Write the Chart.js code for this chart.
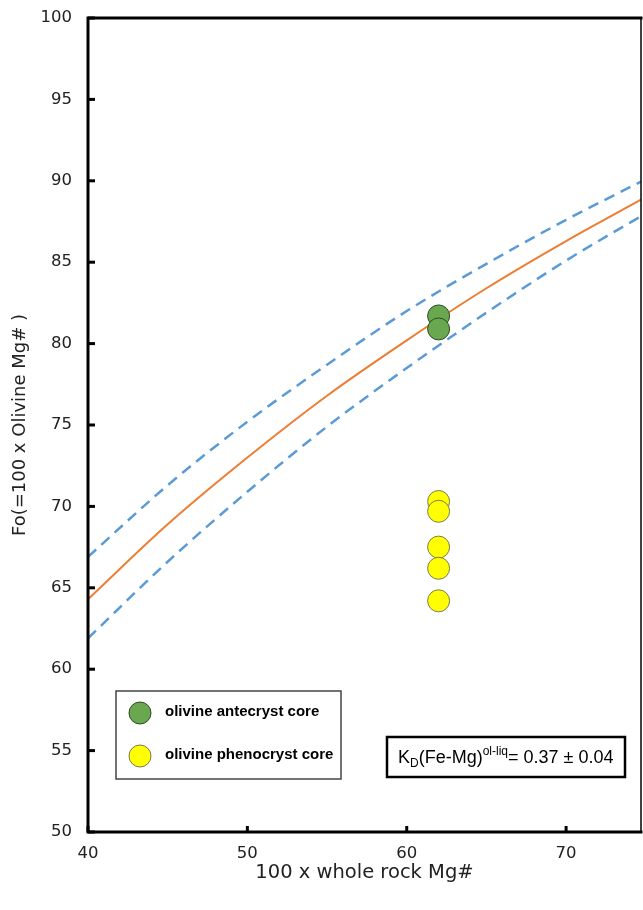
<!DOCTYPE html>
<html>
<head>
<meta charset="utf-8">
<script src="https://cdn.jsdelivr.net/npm/chart.js@4.4.1/dist/chart.umd.min.js"></script>
<style>
body { margin: 0; background: #fff; }
</style>
</head>
<body>
<canvas id="grafico" width="643" height="910"></canvas>
<script>
// curvas de equilibrio (Mg# da rocha total x Fo da olivina)
const mgRocha = [40, 45, 50, 55, 60, 65, 70, 75];
const foKd037 = [64.3, 68.9, 73.0, 76.8, 80.2, 83.4, 86.3, 89.0];
const foKd033 = [66.9, 71.3, 75.2, 78.7, 82.0, 84.9, 87.6, 90.1];
const foKd041 = [61.9, 66.6, 70.9, 74.9, 78.5, 81.9, 85.1, 88.0];

// nucleos de olivina
const mgAntecristal = [62, 62];
const foAntecristal = [81.7, 80.9];
const mgFenocristal = [62, 62, 62, 62, 62];
const foFenocristal = [70.3, 69.7, 67.5, 66.2, 64.2];

const ticksX = [40, 50, 60, 70];
const ticksY = [50, 55, 60, 65, 70, 75, 80, 85, 90, 95, 100];

function pares(xs, ys) {
    return xs.map((x, i) => ({ x: x, y: ys[i] }));
}

Chart.defaults.font.family = '"DejaVu Sans", Verdana, sans-serif';
Chart.defaults.color = '#222';

const moldura = {
    id: 'moldura',
    afterDatasetsDraw(chart) {
        const ctx = chart.ctx;
        const a = chart.chartArea;
        const sx = chart.scales.x;
        const sy = chart.scales.y;
        ctx.save();
        ctx.strokeStyle = '#000';
        ctx.lineCap = 'square';

        // bordas
        ctx.lineWidth = 3;
        ctx.beginPath();
        ctx.moveTo(a.right, a.top);
        ctx.lineTo(a.left, a.top);
        ctx.lineTo(a.left, a.bottom);
        ctx.lineTo(a.right, a.bottom);
        ctx.stroke();
        ctx.lineWidth = 1.5;
        ctx.beginPath();
        ctx.moveTo(a.right, a.top);
        ctx.lineTo(a.right, a.bottom);
        ctx.stroke();

        // marcas para dentro
        ctx.lineWidth = 3;
        ctx.lineCap = 'butt';
        ticksY.forEach(v => {
            const py = sy.getPixelForValue(v);
            ctx.beginPath();
            ctx.moveTo(a.left, py);
            ctx.lineTo(a.left + 7, py);
            ctx.stroke();
        });
        ticksX.forEach(v => {
            const px = sx.getPixelForValue(v);
            ctx.beginPath();
            ctx.moveTo(px, a.bottom);
            ctx.lineTo(px, a.bottom - 6);
            ctx.stroke();
        });

        // legenda
        const lx = a.left + 28, ly = a.bottom - 141;
        ctx.lineWidth = 1.5;
        ctx.strokeStyle = '#444';
        ctx.fillStyle = '#fff';
        ctx.fillRect(lx, ly, 225, 88);
        ctx.strokeRect(lx, ly, 225, 88);
        const itens = chart.data.datasets.filter(d => d.legenda);
        itens.forEach((d, i) => {
            const cy = ly + 22 + i * 43;
            ctx.beginPath();
            ctx.arc(lx + 24, cy, 11, 0, Math.PI * 2);
            ctx.fillStyle = d.backgroundColor;
            ctx.fill();
            ctx.lineWidth = 1;
            ctx.strokeStyle = d.borderColor;
            ctx.stroke();
            ctx.fillStyle = '#000';
            ctx.font = 'bold 15px "Liberation Sans", Arial, sans-serif';
            ctx.textBaseline = 'middle';
            ctx.textAlign = 'left';
            ctx.fillText(d.label, lx + 49, cy - 1);
        });

        // caixa do KD
        const kx = a.left + 299, ky = a.bottom - 95;
        ctx.lineWidth = 2.5;
        ctx.strokeStyle = '#000';
        ctx.fillStyle = '#fff';
        ctx.fillRect(kx, ky, 238, 40);
        ctx.strokeRect(kx, ky, 238, 40);
        ctx.fillStyle = '#000';
        ctx.textBaseline = 'alphabetic';
        let tx = kx + 11;
        const base = ky + 26;
        const grande = '18px "Liberation Sans", Arial, sans-serif';
        const pequeno = '12px "Liberation Sans", Arial, sans-serif';
        const partes = [
            ['K', grande, 0],
            ['D', pequeno, 4],
            ['(Fe-Mg)', grande, 0],
            ['ol-liq', pequeno, -8],
            ['= 0.37 \u00b1 0.04', grande, 0]
        ];
        partes.forEach(p => {
            ctx.font = p[1];
            ctx.fillText(p[0], tx, base + p[2]);
            tx += ctx.measureText(p[0]).width;
        });
        ctx.restore();
    }
};

let ctx = document.getElementById('grafico').getContext('2d');
let chart = new Chart(ctx, {
    type: 'scatter',
    data: {
        datasets: [
            {
                label: 'olivine antecryst core',
                legenda: true,
                data: pares(mgAntecristal, foAntecristal),
                backgroundColor: '#6aa84f',
                borderColor: '#2e4a22',
                borderWidth: 1,
                pointRadius: 11
            },
            {
                label: 'olivine phenocryst core',
                legenda: true,
                data: pares(mgFenocristal, foFenocristal),
                backgroundColor: '#ffff00',
                borderColor: '#7a7a50',
                borderWidth: 1,
                pointRadius: 11
            },
            {
                label: 'KD 0.37',
                data: pares(mgRocha, foKd037),
                showLine: true,
                borderColor: '#ed7d31',
                borderWidth: 2,
                pointRadius: 0,
                cubicInterpolationMode: 'monotone'
            },
            {
                label: 'KD 0.33',
                data: pares(mgRocha, foKd033),
                showLine: true,
                borderColor: '#5b9bd5',
                borderWidth: 2.5,
                borderDash: [11, 7],
                pointRadius: 0,
                cubicInterpolationMode: 'monotone'
            },
            {
                label: 'KD 0.41',
                data: pares(mgRocha, foKd041),
                showLine: true,
                borderColor: '#5b9bd5',
                borderWidth: 2.5,
                borderDash: [11, 7],
                pointRadius: 0,
                cubicInterpolationMode: 'monotone'
            }
        ]
    },
    options: {
        responsive: false,
        animation: false,
        layout: { autoPadding: false, padding: { left: 0, top: 18, right: 2, bottom: 0 } },
        plugins: {
            legend: { display: false },
            tooltip: { enabled: false }
        },
        scales: {
            x: {
                type: 'linear',
                min: 40,
                max: 74.7,
                afterBuildTicks: s => { s.ticks = ticksX.map(v => ({ value: v })); },
                afterFit: s => { s.height = 78; s.paddingLeft = 0; s.paddingRight = 0; },
                grid: { display: false, drawTicks: false },
                border: { display: false },
                ticks: { padding: 12, font: { size: 16.5 }, color: '#222' },
                title: {
                    display: true,
                    text: '100 x whole rock Mg#',
                    font: { size: 19.5 },
                    color: '#222',
                    padding: { top: 0, bottom: 25 }
                }
            },
            y: {
                type: 'linear',
                min: 50,
                max: 100,
                afterBuildTicks: s => { s.ticks = ticksY.map(v => ({ value: v })); },
                afterFit: s => { s.width = 88; s.paddingTop = 0; s.paddingBottom = 0; },
                grid: { display: false, drawTicks: false },
                border: { display: false },
                ticks: { padding: 16, font: { size: 16.5 }, color: '#222' },
                title: {
                    display: true,
                    text: 'Fo(=100 x Olivine Mg# )',
                    font: { size: 18 },
                    color: '#222',
                    padding: { top: 10, bottom: 0 }
                }
            }
        }
    },
    plugins: [moldura]
});
</script>
</body>
</html>
